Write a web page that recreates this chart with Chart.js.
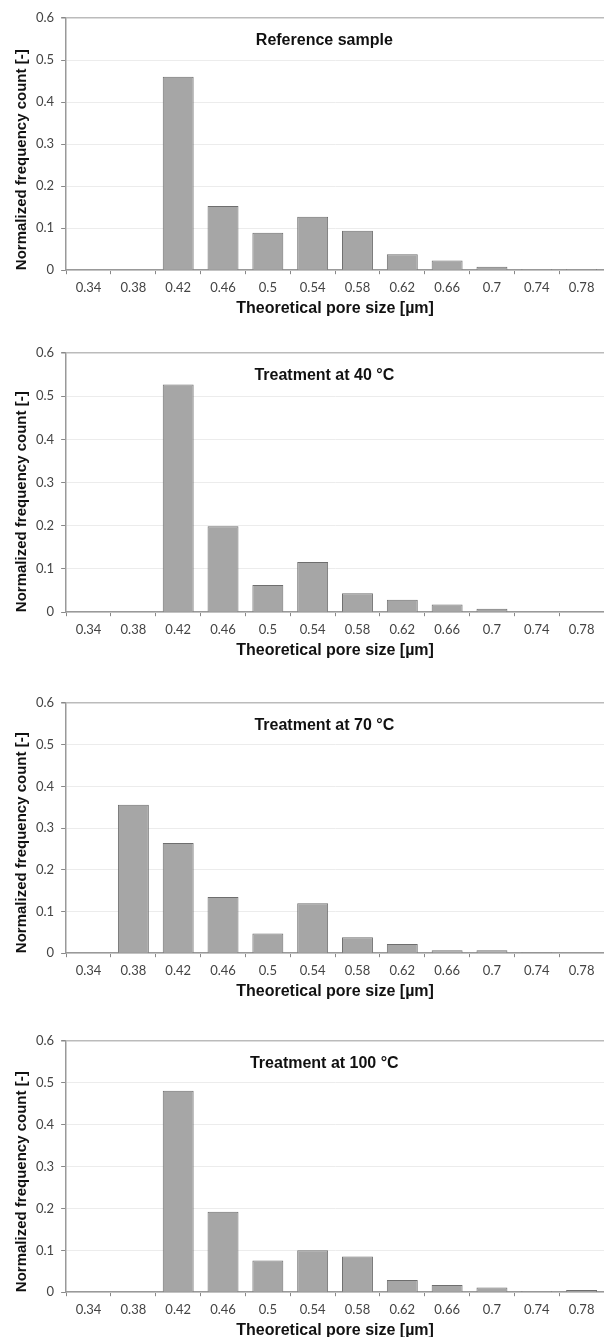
<!DOCTYPE html>
<html>
<head>
<meta charset="utf-8">
<script src="https://cdn.jsdelivr.net/npm/chart.js@4.4.1/dist/chart.umd.min.js"></script>
<style>
body{margin:0;background:#fff;width:604px;height:1337px;position:relative;overflow:hidden}
.box{position:absolute;left:0;width:604px}
</style>
</head>
<body>
<div class="box" style="top:0px;height:320px"><canvas id="g1"></canvas></div>
<div class="box" style="top:335px;height:327px"><canvas id="g2"></canvas></div>
<div class="box" style="top:685px;height:318px"><canvas id="g3"></canvas></div>
<div class="box" style="top:1023px;height:319px"><canvas id="g4"></canvas></div>
<script>
// pore size classes [um]
const poros = ["0.34","0.38","0.42","0.46","0.5","0.54","0.58","0.62","0.66","0.7","0.74","0.78"];
const yTicks = [0,0.1,0.2,0.3,0.4,0.5,0.6];

const referencia = [0,0,0.460,0.153,0.089,0.127,0.094,0.038,0.023,0.008,0.003,0.003];
const trat40 = [0,0,0.527,0.199,0.063,0.116,0.044,0.029,0.018,0.008,0,0];
const trat70 = [0,0.356,0.264,0.135,0.047,0.120,0.038,0.022,0.007,0.007,0.002,0];
const trat100 = [0,0,0.481,0.192,0.076,0.100,0.085,0.029,0.017,0.011,0.003,0.005];

const titulos = ["Reference sample","Treatment at 40 °C","Treatment at 70 °C","Treatment at 100 °C"];

// caption drawn inside the plot area
const rotulo = {
  id:"rotulo",
  afterDraw(chart,args,opts){
    const a = chart.chartArea;
    const c = chart.ctx;
    c.save();
    c.font = "bold 16px 'Liberation Sans', Arial, sans-serif";
    c.fillStyle = "#111";
    c.textAlign = "center";
    c.textBaseline = "middle";
    c.fillText(opts.text, a.left + a.width*0.48, a.top + 23);
    c.restore();
  }
};

function crearGrafico(id, valores, titulo){
  return new Chart(document.getElementById(id), {
    type:"bar",
    data:{
      labels:poros,
      datasets:[{
        data:valores,
        backgroundColor:"#a6a6a6",
        borderColor:"#6e6e6e",
        borderWidth:1,
        categoryPercentage:1,
        barPercentage:0.69
      }]
    },
    plugins:[rotulo],
    options:{
      responsive:true,
      maintainAspectRatio:false,
      animation:false,
      layout:{padding:{top:18,right:0,left:13,bottom:2}},
      plugins:{
        legend:{display:false},
        tooltip:{enabled:false},
        rotulo:{text:titulo}
      },
      scales:{
        x:{
          grid:{drawOnChartArea:false,tickLength:4,color:"#888",offset:true},
          border:{color:"#999",width:1.5},
          ticks:{color:"#444",font:{family:"Lato",size:13},maxRotation:0,padding:6},
          title:{display:true,text:"Theoretical pore size [µm]",color:"#111",
            font:{family:"'Liberation Sans', Arial",size:16,weight:"bold"},padding:{top:-3,bottom:0}}
        },
        y:{
          min:0,max:0.6,
          afterBuildTicks(axis){ axis.ticks = yTicks.map(v=>({value:v})); },
          grid:{
            tickLength:5,
            color:(c)=> c.tick && c.tick.value===0.6 ? "#bbb" : "#ececec",
            lineWidth:(c)=> c.tick && c.tick.value===0.6 ? 1.5 : 1,
            tickColor:"#888"
          },
          border:{color:"#999",width:1.5},
          ticks:{color:"#444",font:{family:"Lato",size:13},padding:7,
            callback:(v)=> v===0 ? "0" : String(+v.toFixed(1))},
          title:{display:true,align:"start",text:"Normalized frequency count [-]",color:"#111",
            font:{family:"'Liberation Sans', Arial",size:15,weight:"bold"},padding:{top:0,bottom:-2}}
        }
      }
    }
  });
}

crearGrafico("g1", referencia, titulos[0]);
crearGrafico("g2", trat40, titulos[1]);
crearGrafico("g3", trat70, titulos[2]);
crearGrafico("g4", trat100, titulos[3]);
</script>
</body>
</html>
